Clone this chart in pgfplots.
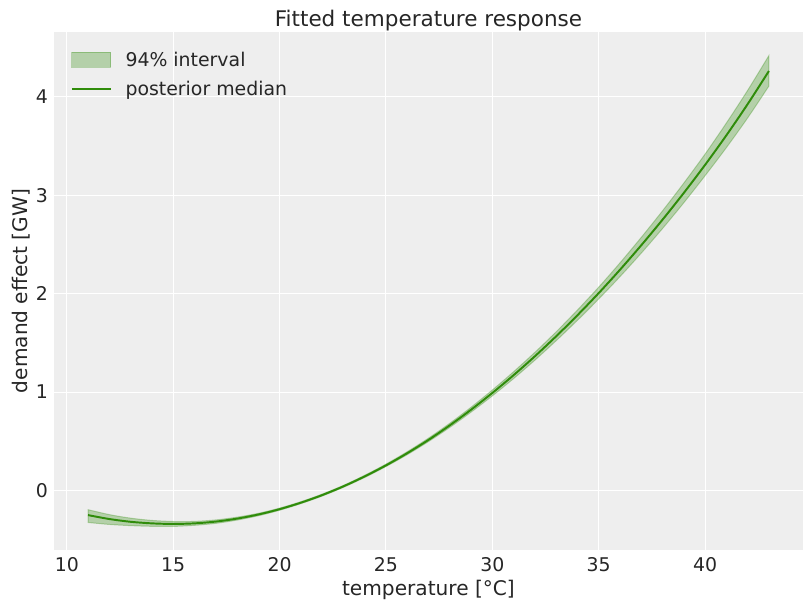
\documentclass[border=0pt]{standalone}
\usepackage{pgfplots}
\pgfplotsset{compat=1.18}
\usepackage{pgfplotstable}
\usepgfplotslibrary{fillbetween}
\usepackage{fontspec}
\setmainfont{DejaVu Sans}
\definecolor{bg}{HTML}{EEEEEE}
\definecolor{med}{RGB}{47,140,10}
\definecolor{txt}{HTML}{262626}

\pgfplotstableread{
x med lo hi
11 -0.250 -0.325 -0.195
12 -0.290 -0.345 -0.245
13 -0.318 -0.357 -0.281
14 -0.334 -0.364 -0.304
15 -0.340 -0.365 -0.315
16 -0.334 -0.354 -0.314
17 -0.316 -0.334 -0.299
18 -0.286 -0.301 -0.271
19 -0.244 -0.257 -0.232
20 -0.190 -0.201 -0.179
21 -0.124 -0.134 -0.114
22 -0.047 -0.057 -0.037
23 0.042 0.032 0.052
24 0.143 0.132 0.154
25 0.255 0.243 0.268
26 0.379 0.364 0.394
27 0.514 0.497 0.532
28 0.662 0.641 0.683
29 0.821 0.796 0.846
30 0.991 0.961 1.021
31 1.172 1.137 1.207
32 1.364 1.324 1.404
33 1.567 1.522 1.612
34 1.781 1.729 1.834
35 2.006 1.946 2.066
36 2.243 2.173 2.313
37 2.492 2.412 2.572
38 2.752 2.662 2.842
39 3.024 2.924 3.124
40 3.309 3.199 3.419
41 3.609 3.484 3.734
42 3.926 3.786 4.066
43 4.263 4.110 4.420
}\datatable

\begin{document}
\begin{tikzpicture}
\begin{axis}[
  at={(0,0)}, anchor=south west,
  scale only axis,
  width=539.3pt, height=373pt,
  xmin=9.4, xmax=44.6,
  ymin=-0.604, ymax=4.66,
  xtick={10,15,20,25,30,35,40},
  ytick={0,1,2,3,4},
  /pgf/number format/assume math mode=true,
  axis background/.style={fill=bg},
  axis line style={draw=none},
  grid=major,
  major grid style={white, line width=0.8pt},
  tick style={draw=none},
  ticklabel style={font=\fontsize{13.6}{16}\selectfont, text=txt, inner sep=0pt},
  xticklabel style={anchor=base, yshift=-15.8pt},
  yticklabel style={anchor=east, xshift=-4.3pt},
  xlabel={temperature [°C]},
  ylabel={demand effect [GW]},
  label style={font=\fontsize{14.5}{17}\selectfont, text=txt, inner sep=0pt},
  xlabel style={at={(axis description cs:0.5,0)}, anchor=base, yshift=-33pt},
  ylabel style={at={(axis description cs:0,0.5)}, anchor=center, rotate=0, yshift=23.6pt},
  title={Fitted temperature response},
  title style={font=\fontsize{15.5}{18}\selectfont, text=txt, at={(axis description cs:0.5,1)}, anchor=base, yshift=-2.1pt, inner sep=0pt},
  legend style={at={(axis description cs:0,1)}, anchor=north west, xshift=12.2pt, yshift=-12.2pt,
    draw=none, fill=none, inner sep=0pt, outer sep=0pt,
    font=\fontsize{13.6}{16}\selectfont, text=txt,
    row sep=5.4pt,
    /tikz/every odd column/.append style={column sep=7.9pt}},
  legend cell align=left,
]
\addplot[name path=hi, draw=none, forget plot, smooth] table[x=x, y=hi] {\datatable};
\addplot[name path=lo, draw=none, forget plot, smooth] table[x=x, y=lo] {\datatable};
\addplot[fill=med, fill opacity=0.3, draw=med, draw opacity=0.3, line width=0.7pt, forget plot]
  fill between[of=hi and lo];
\addplot[med, line width=1.4pt, smooth, forget plot]
  table[x=x, y=med] {\datatable};
\addlegendimage{legend image code/.code={\draw[fill=med, fill opacity=0.3, draw=med, draw opacity=0.3, line width=0.7pt] (0pt,-5.4pt) rectangle (28pt,5.4pt);}}
\addlegendentry{94\% interval}
\addlegendimage{legend image code/.code={\draw[draw=med, line width=1.4pt] (0pt,0pt) -- (28pt,0pt);}}
\addlegendentry{posterior median}
\end{axis}
\pgfresetboundingbox
\path[use as bounding box] (-38.9pt,-44pt) rectangle (545.1pt,396pt);
\end{tikzpicture}
\end{document}
